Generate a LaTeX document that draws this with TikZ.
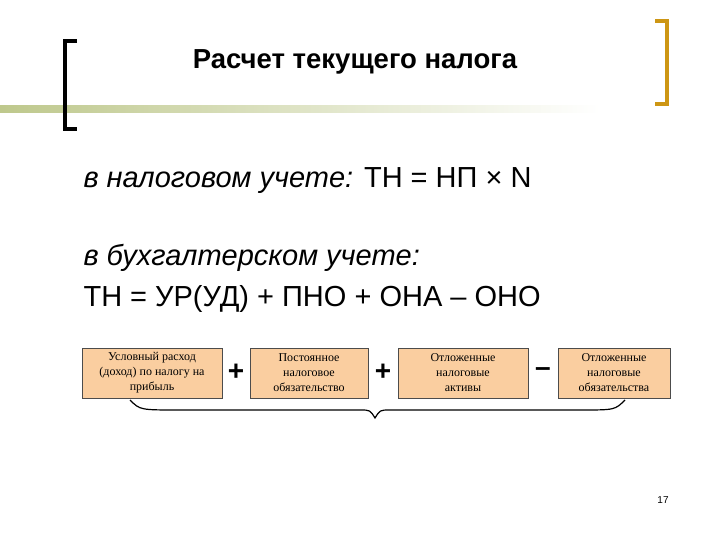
\documentclass[tikz,border=0pt]{standalone}
\usepackage{fontspec}
\setmainfont{Liberation Sans}
\newfontfamily\serifbox{Liberation Serif}
\begin{document}
\begin{tikzpicture}[x=1pt,y=-1pt,
  box/.style={draw=black!70,fill=peach,minimum height=50pt,align=center,font=\serifbox\fontsize{12}{15}\selectfont,inner sep=1pt},
  op/.style={font=\bfseries\fontsize{28}{28}\selectfont}]
\definecolor{peach}{RGB}{250,206,160}
\definecolor{gold}{RGB}{205,150,20}
\definecolor{olive}{RGB}{190,200,140}
\useasboundingbox (0,0) rectangle (720,540);
\shade[left color=olive,right color=white] (0,106) rectangle (600,113);
\draw[line width=3.5pt] (77,41) -- (65,41) -- (65,129) -- (77,129);
\draw[gold,line width=3.5pt] (655,21) -- (667,21) -- (667,104) -- (655,104);
\node[font=\bfseries\fontsize{27.5}{32}\selectfont] (t) at (355,62) {Расчет текущего налога};
\node[anchor=west,font=\fontsize{29}{34}\selectfont] (l1) at (80,181) {\itshape в налоговом учете: \upshape ТН = НП × N};
\node[anchor=west,font=\fontsize{29}{34}\selectfont] (l2) at (80,258) {\itshape в  бухгалтерском учете:};
\node[anchor=west,font=\fontsize{29}{34}\selectfont] (l3) at (80,299) {ТН = УР(УД) + ПНО + ОНА – ОНО};
\node[box,minimum width=140pt] (b1) at (152,373) {Условный расход\\(доход) по налогу на\\прибыль};
\node[box,minimum width=118pt] (b2) at (309,373) {Постоянное\\налоговое\\обязательство};
\node[box,minimum width=130pt] (b3) at (463,373) {Отложенные\\налоговые\\активы};
\node[box,minimum width=112pt] (b4) at (614,373) {Отложенные\\налоговые\\обязательства};
\node[op] (p1) at (236,372) {+};
\node[op] (p2) at (383,372) {+};
\node[op] (p3) at (543,372) {–};
\coordinate (c1) at (130,400);
\coordinate (c2) at (625,400);
\coordinate (m) at (375,418);
\draw[line width=1.2pt] (c1) .. controls (140,410) .. (180,410) -- (360,410) .. controls (370,410) .. (m) .. controls (380,410) .. (390,410) -- (580,410) .. controls (615,410) .. (c2);
\node[font=\fontsize{10}{10}\selectfont] (pg) at (663,500) {17};
\end{tikzpicture}
\end{document}
